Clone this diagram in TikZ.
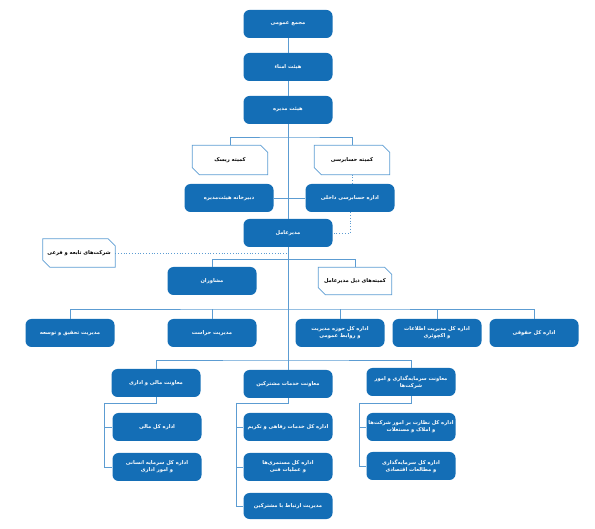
\documentclass[tikz,border=0pt]{standalone}
\usepackage{fontspec}
\usepackage{tikz}
\usetikzlibrary{positioning,calc}
\newfontfamily\farsi[Script=Arabic]{DejaVu Sans}
\TeXXeTstate=1
\definecolor{orgblue}{RGB}{20,110,182}
\definecolor{linkblue}{RGB}{92,156,210}
\newcommand{\fa}[1]{\beginR#1\endR}

\begin{document}
\begin{tikzpicture}[x=1pt,y=-1pt,
  every node/.style={font=\farsi\bfseries\fontsize{5.2}{7}\selectfont},
  unit/.style={rounded corners=6pt,fill=orgblue,text=white,minimum width=89pt,minimum height=28pt,align=center,inner xsep=1pt,inner ysep=2pt},
  cmte/.style={rectangle,minimum width=75pt,minimum height=29pt,text=black,inner sep=1pt},
  cmteline/.style={draw=linkblue,line width=0.8pt},
  link/.style={draw=linkblue,line width=0.8pt},
  dotlink/.style={link,dotted}]
  \useasboundingbox (0,0) rectangle (595,529);

  % board level
  \node[unit] (gm) at (288,24) {\fa{مجمع عمومی}};
  \node[unit] (bt) at (288,67) {\fa{هیئت امناء}};
  \node[unit] (bd) at (288,110) {\fa{هیئت مدیره}};
  \node[cmte] (risk) at (230,160) {\fa{کمیته ریسک}};
  \node[cmte] (audc) at (352,160) {\fa{کمیته حسابرسی}};
  \node[unit] (sec) at (229,198) {\fa{دبیرخانه هیئت‌مدیره}};
  \node[unit] (iaud) at (350,198) {\fa{اداره حسابرسی داخلی}};
  \node[unit] (ceo) at (288,233) {\fa{مدیرعامل}};

  % under the ceo
  \node[cmte,minimum width=72pt,minimum height=28pt] (subs) at (79,253) {\fa{شرکت‌های تابعه و فرعی}};
  \node[unit] (adv) at (212,281) {\fa{مشاوران}};
  \node[cmte,minimum width=73pt,minimum height=27pt] (ccom) at (355,281) {\fa{کمیته‌های ذیل مدیرعامل}};

  \node[unit] (rd) at (70,333) {\fa{مدیریت تحقیق و توسعه}};
  \node[unit] (guard) at (212,333) {\fa{مدیریت حراست}};
  \node[unit] (pr) at (340,333) {\fa{اداره کل حوزه مدیریت}\\\fa{و روابط عمومی}};
  \node[unit] (ima) at (437,333) {\fa{اداره کل مدیریت اطلاعات}\\\fa{و اکچوئری}};
  \node[unit] (leg) at (534,333) {\fa{اداره کل حقوقی}};

  % deputies
  \node[unit] (vp1) at (156,383) {\fa{معاونت مالی و اداری}};
  \node[unit] (vp2) at (288,384) {\fa{معاونت خدمات مشترکین}};
  \node[unit] (vp3) at (411,382) {\fa{معاونت سرمایه‌گذاری و امور}\\\fa{شرکت‌ها}};

  \node[unit] (fin) at (157,427) {\fa{اداره کل مالی}};
  \node[unit] (hr) at (157,467) {\fa{اداره کل سرمایه انسانی}\\\fa{و امور اداری}};
  \node[unit] (wel) at (288,427) {\fa{اداره کل خدمات رفاهی و تکریم}};
  \node[unit] (pen) at (288,467) {\fa{اداره کل مستمری‌ها}\\\fa{و عملیات فنی}};
  \node[unit,minimum height=26pt] (crm) at (288,506) {\fa{مدیریت ارتباط با مشترکین}};
  \node[unit] (sup) at (411,427) {\fa{اداره کل نظارت بر امور شرکت‌ها}\\\fa{و املاک و مستغلات}};
  \node[unit] (inv) at (411,466) {\fa{اداره کل سرمایه‌گذاری}\\\fa{و مطالعات اقتصادی}};

  % committee outlines, cut at two corners
  \foreach \n in {risk,audc,subs,ccom}
    \draw[cmteline] (\n.north west) -- ([xshift=-7pt]\n.north east) -- ([yshift=-7pt]\n.north east)
      -- (\n.south east) -- ([xshift=7pt]\n.south west) -- ([yshift=7pt]\n.south west) -- cycle;

  % junctions
  \coordinate (jc) at (288,137);
  \coordinate (js) at (288,253);
  \coordinate (ja) at (288,259);
  \coordinate (jr) at (288,309);
  \coordinate (jv) at (288,360);
  \coordinate (s1) at (104,403);
  \coordinate (s2) at (236,403);
  \coordinate (s3) at (359,403);

  % connectors
  \draw[link] (gm) -- (bt);
  \draw[link] (bt) -- (bd);
  \draw[link] (bd) -- (ceo);
  \draw[link] (risk.north) |- (jc) -| (audc.north);
  \draw[link] (sec) -- (iaud);
  \draw[dotlink] (audc.south) -- (audc.south |- iaud.north);
  \draw[dotlink] (iaud.south) |- (ceo.east);
  \draw[dotlink] (subs) -- (js);
  \draw[link] (ceo) -- (vp2);
  \draw[link] (ja) -| (adv.north);
  \draw[link] (ja) -| (ccom.north);
  \draw[link] (rd.north) |- (jr) -| (leg.north);
  \foreach \n in {guard,pr,ima}
    \draw[link] (\n.north) -- (\n.north |- jr);
  \draw[link] (vp1.north) |- (jv) -| (vp3.north);
  \draw[link] (vp1.south) |- (s1) |- (hr.west);
  \draw[link] (s1) |- (fin.west);
  \draw[link] (vp2.south) |- (s2) |- (crm.west);
  \foreach \n in {wel,pen}
    \draw[link] (s2) |- (\n.west);
  \draw[link] (vp3.south) |- (s3) |- (inv.west);
  \draw[link] (s3) |- (sup.west);
\end{tikzpicture}
\end{document}
